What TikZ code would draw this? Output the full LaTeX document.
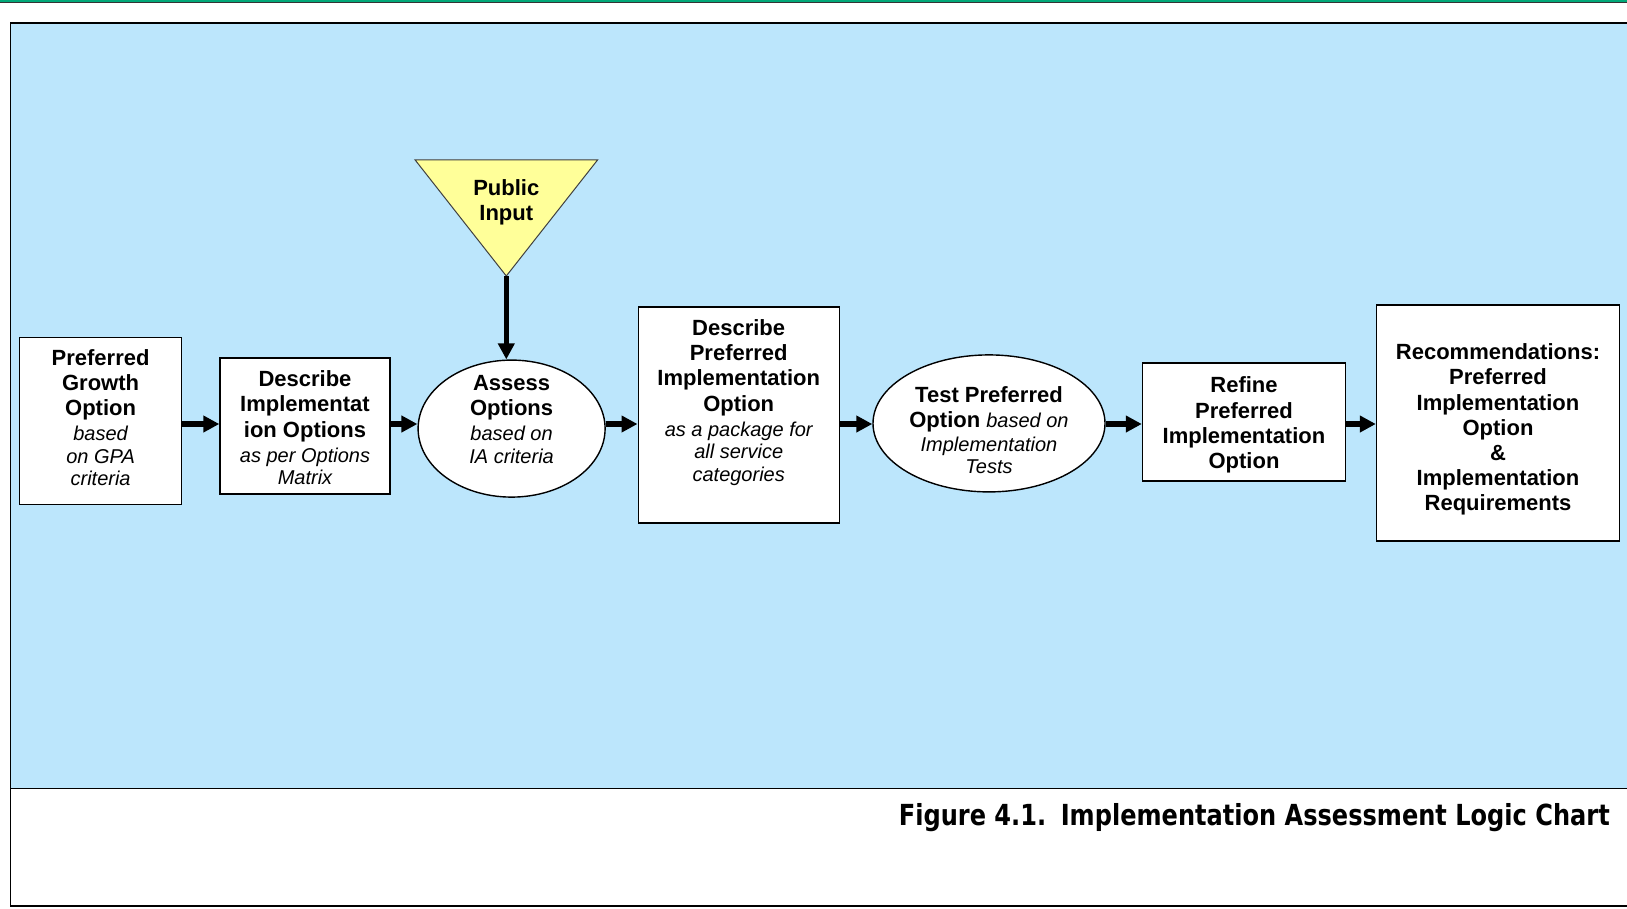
\documentclass[tikz,border=0pt]{standalone}
\usepackage{fontspec}
\setmainfont{Liberation Sans}
\newfontfamily\capfont[FakeStretch=0.83]{DejaVu Sans}
\usetikzlibrary{shapes.geometric,arrows.meta}

\definecolor{panelblue}{RGB}{188,230,252}
\definecolor{pinyellow}{RGB}{255,255,153}
\definecolor{topgreen}{RGB}{0,168,120}

\newcommand{\hd}{\fontsize{22}{25.2}\selectfont\bfseries}
\newcommand{\subtxt}{\fontsize{20}{22}\selectfont\mdseries\itshape}

\tikzset{
 stepbox/.style={draw=black, line width=1.4pt, fill=white},
 oval/.style={ellipse, draw=black, line width=1.4pt, fill=white},
 steptext/.style={align=center, inner sep=0pt, font=\hd},
 flow/.style={line width=5.5pt, -{Triangle[length=16pt,width=16pt]}},
}

\begin{document}
\begin{tikzpicture}[x=1pt,y=-1pt]
 \useasboundingbox (0,0) rectangle (1627,908);
 % page frame
 \fill[topgreen] (0,0) rectangle (1627,2.2);
 \draw[black!80, line width=0.8pt] (0,2.6) -- (1627,2.6);
 \fill[panelblue] (10.5,22.8) rectangle (1627,788.6);
 \draw[line width=1.4pt] (1627,22.8) -- (10.5,22.8) -- (10.5,906) -- (1627,906);
 \draw[line width=1.4pt] (10.5,788.6) -- (1627,788.6);

 \coordinate (axis) at (0,424);

 % steps
 \node[stepbox, minimum width=162pt, minimum height=167pt] (growth) at (100.6,420.7) {};
 \node[steptext] (growth-text) at ([yshift=3pt]growth)
   {Preferred\\Growth\\Option\\ \subtxt based\\[-2.6pt] \subtxt on GPA\\[-2.6pt] \subtxt criteria};
 \node[stepbox, minimum width=170pt, minimum height=136pt] (impopt) at (305,426) {};
 \node[steptext] (impopt-text) at ([yshift=-2pt]impopt)
   {Describe\\Implementat\\ion Options\\ \subtxt as per Options\\[-2.6pt] \subtxt Matrix};
 \node[oval, minimum width=187pt, minimum height=137pt] (assess) at (511.6,428.6) {};
 \node[steptext] (assess-text) at ([yshift=9.3pt]assess)
   {Assess\\Options\\ \subtxt based on\\[-2.6pt] \subtxt IA criteria};
 \node[stepbox, minimum width=201pt, minimum height=216pt] (prefopt) at (738.7,415) {};
 \node[steptext] (prefopt-text) at ([yshift=12.5pt]prefopt)
   {Describe\\Preferred\\Implementation\\Option\\ \subtxt as a package for\\[-2.6pt] \subtxt all service\\[-2.6pt] \subtxt categories};
 \node[oval, minimum width=232pt, minimum height=137pt] (test) at (989,423.4) {};
 \node[steptext] (test-text) at ([yshift=-6.7pt]test)
   {Test Preferred\\Option {\subtxt based on}\\[-1.5pt] \subtxt Implementation\\[-3.4pt] \subtxt Tests};
 \node[stepbox, minimum width=203pt, minimum height=118pt] (refine) at (1244,422) {};
 \node[steptext] (refine-text) at ([yshift=-3pt]refine)
   {Refine\\Preferred\\Implementation\\Option};
 \node[stepbox, minimum width=243pt, minimum height=236pt] (recs) at (1498,423) {};
 \node[steptext] (recs-text) at ([yshift=-6.7pt]recs)
   {Recommendations:\\Preferred\\Implementation\\Option\\\&\\Implementation\\Requirements};

 % public input
 \coordinate (pin-a) at (415,159.8);
 \coordinate (pin-b) at (597.7,159.8);
 \coordinate (apex) at (506.3,276);
 \draw[fill=pinyellow, draw=black!75, line width=1pt] (pin-a) -- (pin-b) -- (apex) -- cycle;
 \node[steptext] (pin) at (506.3,202.6) {Public\\Input};

 % arrows
 \draw[flow] (apex) -- (apex |- assess.north);
 \draw[flow] (growth.east |- axis) -- (impopt.west |- axis);
 \draw[flow] (impopt.east |- axis) -- (assess.west |- axis);
 \draw[flow] (assess.east |- axis) -- (prefopt.west |- axis);
 \draw[flow] (prefopt.east |- axis) -- (test.west |- axis);
 \draw[flow] (test.east |- axis) -- (refine.west |- axis);
 \draw[flow] (refine.east |- axis) -- (recs.west |- axis);

 \node[anchor=east, inner sep=0pt, font=\capfont\fontsize{29}{32}\selectfont\bfseries] (caption)
   at (1610,818) {Figure 4.1.\hspace{0.5em}Implementation Assessment Logic Chart};
\end{tikzpicture}
\end{document}
